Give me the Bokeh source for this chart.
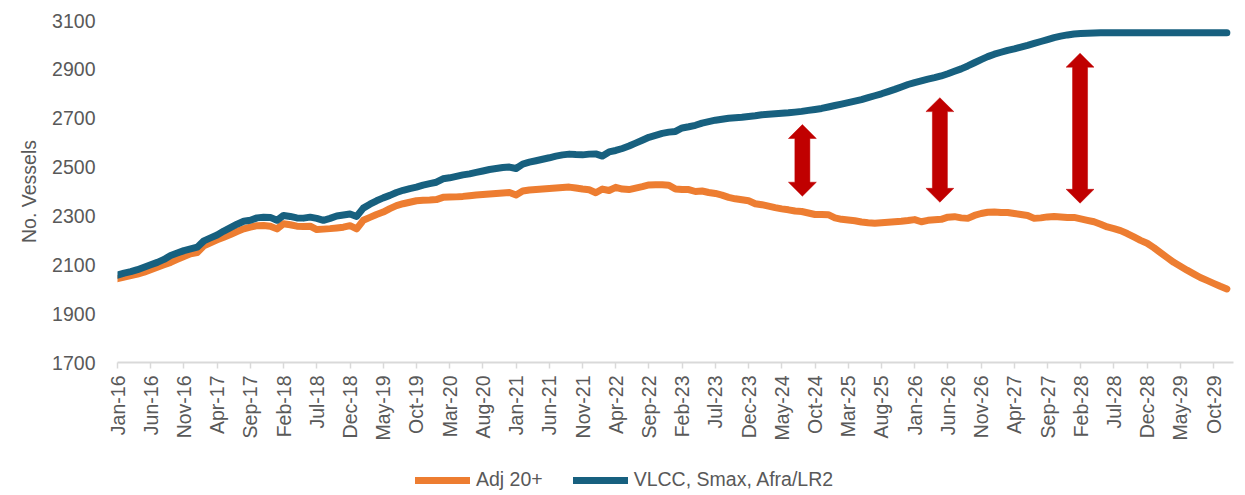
import math
import pandas as pd
from bokeh.plotting import figure
from bokeh.layouts import column
from bokeh.models import Range1d, FixedTicker, Legend, LegendItem, ColumnDataSource
from bokeh.embed import file_html
from bokeh.resources import INLINE

# ---- data -------------------------------------------------------------
months = [d.strftime("%b-%y") for d in pd.date_range("2016-01-01", periods=168, freq="MS")]

tick_labels = ["Jan-16", "Jun-16", "Nov-16", "Apr-17", "Sep-17", "Feb-18", "Jul-18",
               "Dec-18", "May-19", "Oct-19", "Mar-20", "Aug-20", "Jan-21", "Jun-21",
               "Nov-21", "Apr-22", "Sep-22", "Feb-23", "Jul-23", "Dec-23", "May-24",
               "Oct-24", "Mar-25", "Aug-25", "Jan-26", "Jun-26", "Nov-26", "Apr-27",
               "Sep-27", "Feb-28", "Jul-28", "Dec-28", "May-29", "Oct-29"]

adj20 = [
    2043, 2050, 2056, 2062, 2070, 2080, 2090, 2100, 2110, 2122, 2134, 2145,
    2150, 2178, 2190, 2202, 2213, 2224, 2236, 2247, 2254, 2260, 2261, 2258,
    2247, 2268, 2264, 2258, 2257, 2258, 2244, 2246, 2248, 2251, 2254, 2260,
    2247, 2282, 2294, 2306, 2316, 2330, 2342, 2350, 2356, 2362, 2364, 2365,
    2367, 2376, 2377, 2378, 2380, 2383, 2386, 2388, 2390, 2392, 2394, 2396,
    2386, 2402, 2406, 2408, 2410, 2412, 2414, 2416, 2418, 2414, 2410, 2407,
    2395, 2410, 2404, 2417, 2410, 2408, 2414, 2420, 2427, 2428, 2428, 2426,
    2410, 2408, 2408, 2400, 2402, 2396, 2392, 2385, 2376, 2370, 2366, 2362,
    2350, 2346, 2340, 2334, 2329, 2325, 2320, 2318, 2312, 2306, 2306, 2305,
    2292, 2286, 2283, 2280, 2275, 2272, 2270, 2272, 2274, 2276, 2278, 2281,
    2285, 2276, 2282, 2284, 2286, 2295, 2297, 2292, 2290, 2302, 2310, 2315,
    2316, 2314, 2314, 2310, 2306, 2302, 2290, 2292, 2296, 2298, 2296, 2294,
    2294, 2288, 2282, 2276, 2266, 2255, 2248, 2240, 2228, 2214, 2200, 2188,
    2170, 2150, 2130, 2110, 2094, 2078, 2063, 2048, 2036, 2024, 2012, 2001,
]

vlcc_smax_afra = [
    2058, 2066, 2072, 2080, 2090, 2100, 2110, 2122, 2138, 2148, 2158, 2165,
    2172, 2198, 2210, 2222, 2238, 2252, 2266, 2278, 2282, 2292, 2295, 2294,
    2282, 2302, 2298, 2292, 2291, 2295, 2290, 2282, 2290, 2300, 2304, 2308,
    2298, 2332, 2348, 2362, 2374, 2384, 2396, 2405, 2412, 2418, 2426, 2432,
    2438, 2452, 2456, 2462, 2468, 2472, 2478, 2484, 2490, 2494, 2498, 2500,
    2494, 2512, 2520, 2526, 2532, 2538, 2545, 2550, 2553, 2551, 2550, 2553,
    2554, 2545, 2562, 2568, 2576, 2586, 2598, 2610, 2622, 2630, 2638, 2643,
    2646, 2660, 2665, 2671, 2680, 2686, 2692, 2696, 2700, 2702, 2704, 2707,
    2710, 2714, 2716, 2718, 2720, 2722, 2725, 2728, 2732, 2736, 2740, 2746,
    2752, 2758, 2764, 2770, 2776, 2784, 2792, 2800, 2809, 2818, 2828, 2838,
    2846, 2853, 2860, 2866, 2873, 2882, 2892, 2902, 2914, 2927, 2940, 2952,
    2962, 2970, 2978, 2984, 2991, 2998, 3006, 3014, 3022, 3030, 3036, 3041,
    3045, 3047, 3048, 3049, 3050, 3050, 3050, 3050, 3050, 3050, 3050, 3050,
    3050, 3050, 3050, 3050, 3050, 3050, 3050, 3050, 3050, 3050, 3050, 3050,
]

y_ticks = [1700, 1900, 2100, 2300, 2500, 2700, 2900, 3100]

# gap annotations (double arrows): month index, top value, bottom value
arrow_x = [103.1, 123.8, 144.9]
arrow_top = [2674, 2784, 2966]
arrow_bottom = [2381, 2356, 2352]

# ---- style ------------------------------------------------------------
FONT = "Liberation Sans"
FS = "19.5px"
GREY = "#595959"
ORANGE = "#ED7D31"
BLUE = "#17607F"
RED = "#C00000"
LW = 7

x = list(range(len(months)))
src = ColumnDataSource(dict(x=x, adj=adj20, fleet=vlcc_smax_afra))

W = 1245
H_MAIN = 450
p = figure(width=W, height=H_MAIN, output_backend="svg", toolbar_location=None,
           x_range=Range1d(0, len(months)), y_range=Range1d(1700, 3100),
           min_border_left=117, min_border_right=12, min_border_top=20,
           min_border_bottom=H_MAIN - 20 - 342)
p.outline_line_color = None
p.grid.visible = False

p.line("x", "adj", source=src, line_color=ORANGE, line_width=LW,
       line_cap="round", line_join="round")
p.line("x", "fleet", source=src, line_color=BLUE, line_width=LW,
       line_cap="round", line_join="round")

# double arrows
sw, hw, hh = 1.13, 2.1, 57
xs, ys = [], []
for xc, yt, yb in zip(arrow_x, arrow_top, arrow_bottom):
    xs.append([xc, xc + hw, xc + sw, xc + sw, xc + hw, xc, xc - hw, xc - sw, xc - sw, xc - hw])
    ys.append([yt, yt - hh, yt - hh, yb + hh, yb + hh, yb, yb + hh, yb + hh, yt - hh, yt - hh])
p.patches(xs, ys, fill_color=RED, line_color=RED, line_width=0.5)

# x axis
xa = p.xaxis[0]
tick_pos = [months.index(t) for t in tick_labels]
xa.ticker = FixedTicker(ticks=tick_pos)
xa.major_label_overrides = {pos: lab for pos, lab in zip(tick_pos, tick_labels)}
xa.major_label_orientation = math.pi / 2
xa.axis_line_color = "#D9D9D9"
xa.axis_line_width = 2
xa.major_tick_line_color = "#D9D9D9"
xa.major_tick_line_width = 1.5
xa.major_tick_in = 0
xa.major_tick_out = 6
xa.minor_tick_line_color = None
xa.major_label_standoff = 7
xa.major_label_text_font = FONT
xa.major_label_text_font_size = FS
xa.major_label_text_color = GREY

# y axis
ya = p.yaxis[0]
ya.ticker = FixedTicker(ticks=y_ticks)
ya.axis_line_color = None
ya.major_tick_line_color = None
ya.minor_tick_line_color = None
ya.major_tick_in = 0
ya.major_tick_out = 0
ya.major_label_standoff = 22
ya.major_label_text_font = FONT
ya.major_label_text_font_size = FS
ya.major_label_text_color = GREY
ya.axis_label = "No. Vessels"
ya.axis_label_text_font = FONT
ya.axis_label_text_font_size = FS
ya.axis_label_text_font_style = "normal"
ya.axis_label_text_color = GREY
ya.axis_label_standoff = 9

# legend strip below the chart
H_LEG = 44
lf = figure(width=W, height=H_LEG, output_backend="svg", toolbar_location=None,
            x_axis_type=None, y_axis_type=None, min_border=0,
            x_range=Range1d(0, 1), y_range=Range1d(0, 1))
lf.outline_line_color = None
lf.grid.visible = False
offscreen = ColumnDataSource(dict(x=[-5, -4], y=[-5, -4]))
l_adj = lf.line("x", "y", source=offscreen, line_color=ORANGE, line_width=LW, line_cap="round")
l_fleet = lf.line("x", "y", source=offscreen, line_color=BLUE, line_width=LW, line_cap="round")
legend = Legend(items=[LegendItem(label="Adj 20+", renderers=[l_adj]),
                       LegendItem(label="VLCC, Smax, Afra/LR2", renderers=[l_fleet])],
                orientation="horizontal", location=(298, 3),
                glyph_width=55, glyph_height=20, label_height=20,
                label_standoff=6, spacing=30, padding=0, margin=0,
                border_line_color=None, background_fill_alpha=0,
                label_text_font=FONT, label_text_font_size=FS,
                label_text_color=GREY)
lf.add_layout(legend)

layout = column(p, lf, spacing=0)
open("out.html", "w").write(file_html(layout, INLINE))
